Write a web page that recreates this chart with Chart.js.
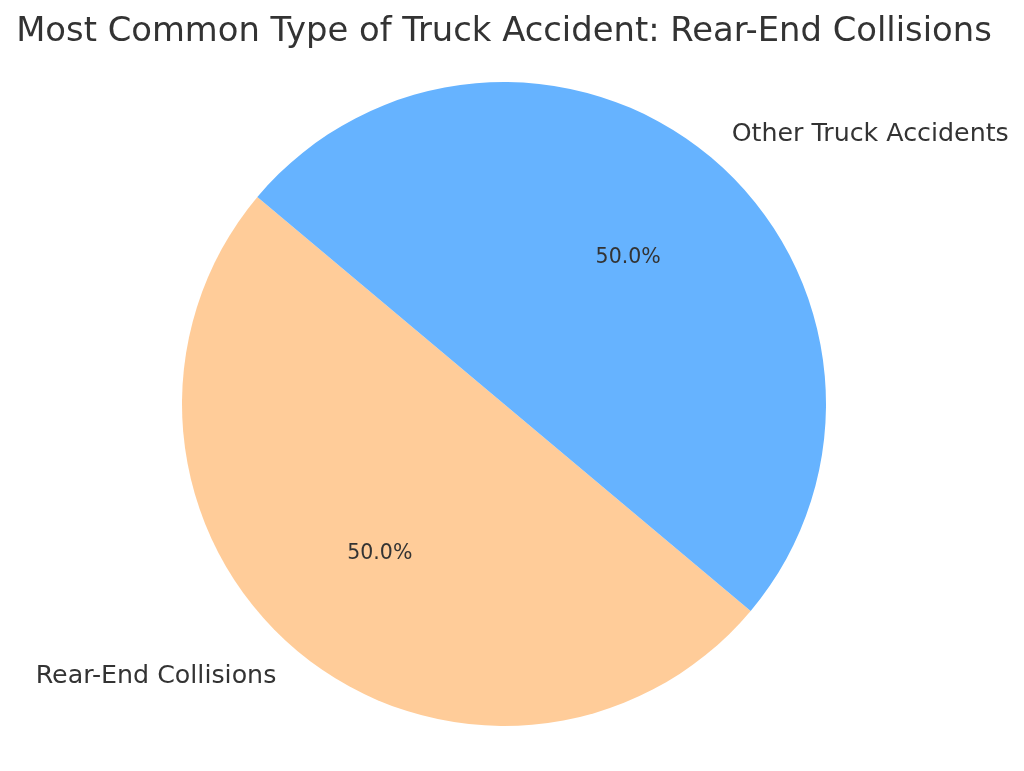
<!DOCTYPE html>
<html>
<head>
<meta charset="utf-8">
<script src="https://cdn.jsdelivr.net/npm/chart.js@4"></script>
<style>
  html, body { margin: 0; padding: 0; background: #fff; }
  canvas { display: block; }
</style>
</head>
<body>
<canvas id="pie" width="1024" height="771"></canvas>
<script>
const labels = ["Rear-End Collisions", "Other Truck Accidents"];
const values = [50, 50];
const colors = ["#ffcc99", "#66b3ff"];
const titleText = "Most Common Type of Truck Accident: Rear-End Collisions";

// draws the title, outside labels and percent labels like matplotlib does
const pieText = {
  id: "pieText",
  afterDraw(chart) {
    const ctx = chart.ctx;
    const total = values.reduce((a, b) => a + b, 0);
    ctx.save();
    ctx.fillStyle = "#333333";
    ctx.textBaseline = "middle";

    ctx.font = "33.8px 'DejaVu Sans'";
    ctx.textAlign = "center";
    ctx.fillText(titleText, 504, 32);

    const arcs = chart.getDatasetMeta(0).data;
    arcs.forEach((arc, i) => {
      const p = arc.getProps(["x", "y", "startAngle", "endAngle", "outerRadius"], true);
      const mid = (p.startAngle + p.endAngle) / 2;
      const c = Math.cos(mid), s = Math.sin(mid);

      ctx.font = "25.3px 'DejaVu Sans'";
      ctx.textAlign = c >= 0 ? "left" : "right";
      ctx.fillText(labels[i], p.x + c * p.outerRadius * 1.1, p.y + s * p.outerRadius * 1.1 + 1.5);

      ctx.font = "20.5px 'DejaVu Sans'";
      ctx.textAlign = "center";
      const pct = (values[i] / total * 100).toFixed(1) + "%";
      ctx.fillText(pct, p.x + c * p.outerRadius * 0.6, p.y + s * p.outerRadius * 0.6 + 1.5);
    });
    ctx.restore();
  }
};

new Chart(document.getElementById("pie"), {
  type: "pie",
  data: {
    labels: labels,
    datasets: [{
      data: values,
      backgroundColor: colors,
      borderWidth: 0,
    }],
  },
  options: {
    responsive: false,
    animation: false,
    rotation: 130,
    layout: { padding: { top: 82, bottom: 45, left: 182, right: 198 } },
    plugins: {
      legend: { display: false },
      tooltip: { enabled: false },
    },
  },
  plugins: [pieText],
});
</script>
</body>
</html>
